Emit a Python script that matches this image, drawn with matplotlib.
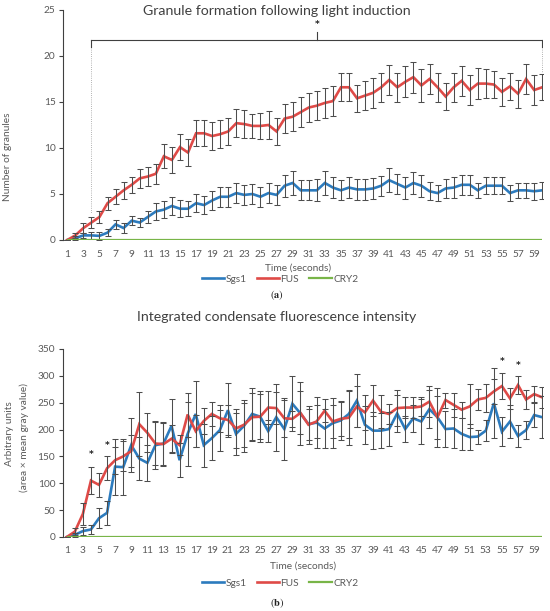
import matplotlib
matplotlib.use('Agg')
import matplotlib.pyplot as plt
from matplotlib.lines import Line2D

plt.rcParams['font.family'] = ['Lato', 'DejaVu Sans']
plt.rcParams['mathtext.fontset'] = 'stix'

# ---------------- data ----------------
time_s = list(range(1, 61))
tick_values = list(range(1, 61, 2))
tick_labels = [str(v) for v in tick_values]
series_names = ['Sgs1', 'FUS', 'CRY2']

# Panel (a): number of granules
sgs1_a = [0, 0.2, 0.5, 0.5, 0.45, 0.8, 1.7, 1.3, 2.1, 1.9,
          2.5, 3.1, 3.3, 3.7, 3.4, 3.4, 4.0, 3.8, 4.3, 4.7,
          4.7, 5.1, 4.9, 5.0, 4.7, 5.1, 4.9, 5.9, 6.2, 5.4,
          5.4, 5.4, 6.2, 5.7, 5.4, 5.7, 5.5, 5.5, 5.6, 5.9,
          6.5, 6.1, 5.7, 6.2, 5.9, 5.3, 5.1, 5.6, 5.7, 6.0,
          6.0, 5.4, 5.9, 5.9, 5.9, 5.1, 5.4, 5.4, 5.3, 5.4]
sgs1_a_err = [0, 0.2, 0.3, 0.4, 0.4, 0.4, 0.5, 0.5, 0.5, 0.5,
              0.6, 0.9, 0.9, 1.0, 0.9, 0.8, 1.0, 1.0, 1.0, 1.1,
              1.1, 1.1, 1.1, 1.1, 1.1, 1.1, 1.1, 1.2, 1.3, 1.1,
              1.1, 1.2, 1.3, 1.1, 1.1, 1.1, 1.1, 1.1, 1.1, 1.1,
              1.3, 1.1, 1.2, 1.2, 1.2, 1.0, 0.9, 1.0, 1.1, 1.1,
              1.1, 0.8, 0.9, 0.9, 0.9, 0.9, 0.8, 0.8, 0.9, 0.9]
fus_a = [0, 0.5, 1.3, 1.9, 2.5, 4.0, 4.7, 5.4, 6.0, 6.7,
         6.9, 7.2, 9.1, 8.7, 10.1, 9.5, 11.6, 11.6, 11.3, 11.5,
         11.8, 12.7, 12.6, 12.4, 12.4, 12.5, 11.8, 13.2, 13.4, 13.9,
         14.4, 14.6, 14.9, 15.1, 16.6, 16.6, 15.4, 15.7, 16.0, 16.6,
         17.4, 16.6, 17.2, 17.7, 16.8, 17.5, 16.6, 15.6, 16.6, 17.3,
         16.3, 17.0, 17.0, 16.9, 16.1, 16.7, 15.9, 17.5, 16.3, 16.6]
fus_a_err = [0, 0.3, 0.5, 0.6, 0.7, 0.7, 0.8, 0.9, 0.9, 1.0,
             1.0, 1.1, 1.3, 1.4, 1.4, 1.5, 1.4, 1.4, 1.5, 1.5,
             1.5, 1.5, 1.5, 1.3, 1.4, 1.5, 1.5, 1.6, 1.6, 1.6,
             1.6, 1.6, 1.6, 1.6, 1.5, 1.5, 1.5, 1.6, 1.6, 1.6,
             1.6, 1.6, 1.7, 1.7, 1.8, 1.6, 1.6, 1.5, 1.6, 1.6,
             1.6, 1.7, 1.6, 1.5, 1.5, 1.5, 1.5, 1.6, 1.6, 1.4]
cry2_a = [0, 0, 0, 0, 0, 0, 0, 0, 0, 0, 0, 0, 0, 0, 0, 0, 0, 0, 0, 0,
          0, 0, 0, 0, 0, 0, 0, 0, 0, 0, 0, 0, 0, 0, 0, 0, 0, 0, 0, 0,
          0, 0, 0, 0, 0, 0, 0, 0, 0, 0, 0, 0, 0, 0, 0, 0, 0, 0, 0, 0]

# Panel (b): integrated intensity
sgs1_b = [0, 4, 11, 14, 35, 45, 131, 130, 171, 146,
          138, 171, 174, 207, 143, 192, 229, 171, 184, 199,
          236, 192, 207, 229, 224, 197, 223, 201, 248, 230,
          210, 213, 202, 212, 217, 229, 254, 209, 198, 198,
          201, 230, 201, 221, 215, 238, 223, 201, 202, 192,
          186, 187, 198, 249, 196, 215, 188, 199, 227, 223]
sgs1_b_err = [0, 4, 8, 8, 19, 22, 52, 52, 50, 40,
              33, 45, 40, 50, 32, 60, 62, 40, 41, 38,
              50, 39, 48, 48, 42, 20, 62, 58, 51, 59,
              29, 48, 37, 47, 36, 45, 50, 35, 35, 33,
              32, 34, 25, 25, 41, 36, 55, 33, 37, 30,
              24, 13, 20, 65, 27, 30, 21, 17, 22, 39]
fus_b = [0, 10, 43, 105, 97, 128, 143, 150, 160, 210,
         194, 174, 173, 183, 171, 228, 197, 216, 229, 221,
         218, 202, 209, 223, 224, 241, 240, 221, 220, 231,
         209, 215, 235, 215, 220, 222, 243, 232, 254, 233,
         229, 240, 241, 241, 243, 252, 223, 255, 246, 237,
         243, 256, 259, 271, 281, 258, 283, 256, 266, 260]
fus_b_err = [0, 6, 21, 25, 22, 22, 25, 28, 30, 60,
             36, 40, 40, 25, 19, 41, 30, 24, 23, 25,
             28, 36, 41, 45, 48, 30, 30, 34, 15, 40,
             35, 30, 21, 31, 32, 50, 38, 32, 29, 31,
             19, 33, 19, 20, 17, 29, 40, 14, 23, 15,
             41, 19, 26, 24, 24, 20, 17, 18, 15, 20]
cry2_b = [0, 0, 0, 0, 0, 0, 0, 0, 0, 0, 0, 0, 0, 0, 0, 0, 0, 0, 0, 0,
          0, 0, 0, 0, 0, 0, 0, 0, 0, 0, 0, 0, 0, 0, 0, 0, 0, 0, 0, 0,
          0, 0, 0, 0, 0, 0, 0, 0, 0, 0, 0, 0, 0, 0, 0, 0, 0, 0, 0, 0]

# significance marks
star_a_x = [32]
star_a_y = [23.4]
bracket_a = [4, 60, 21.7]
star_b_x = [4, 6, 55, 57]
star_b_y = [154, 171, 326, 319]

# ---------------- style ----------------
C_BLUE = '#2C7BBE'
C_RED = '#DF4A47'
C_GREEN = '#78B548'
C_ERR = '#4D4D4D'
C_TXT = '#595959'
C_AX = '#404040'
FS = 7.3

W, H = 550, 611
fig = plt.figure(figsize=(W / 100, H / 100), dpi=100)


def px(x0, y0, x1, y1):
    return [x0 / W, 1 - y1 / H, (x1 - x0) / W, (y1 - y0) / H]


def draw_panel(ax, sgs, sgs_err, fus, fus_err, cry, ymax, ystep, pad):
    ax.plot(time_s, sgs, color=C_BLUE, lw=1.9, zorder=2, solid_joinstyle='miter')
    ax.plot(time_s, fus, color=C_RED, lw=1.9, zorder=2.1, solid_joinstyle='miter')
    ax.errorbar(time_s, sgs, yerr=sgs_err, fmt='none', ecolor=C_ERR,
                elinewidth=0.75, capsize=1.9, capthick=0.75, zorder=3)
    ax.errorbar(time_s, fus, yerr=fus_err, fmt='none', ecolor=C_ERR,
                elinewidth=0.75, capsize=1.9, capthick=0.75, zorder=3)
    ax.plot(time_s, cry, color=C_GREEN, lw=1.6, zorder=4, solid_capstyle='butt')
    ax.set_xlim(0.47, 60.1)
    ax.set_ylim(0, ymax)
    ax.set_yticks(list(range(0, ymax + 1, ystep)))
    ax.set_xticks(tick_values)
    ax.set_xticklabels(tick_labels)
    for s in ['top', 'right', 'bottom']:
        ax.spines[s].set_visible(False)
    ax.spines['left'].set_color(C_AX)
    ax.spines['left'].set_linewidth(0.8)
    ax.tick_params(axis='y', length=2.8, width=0.8, color=C_AX, labelsize=FS,
                   labelcolor=C_TXT, pad=2.5)
    ax.tick_params(axis='x', length=0, labelsize=FS, labelcolor=C_TXT, pad=pad)
    ax.patch.set_alpha(0)


# Panel (a)
ax1 = fig.add_axes(px(63, 10, 543, 240))
draw_panel(ax1, sgs1_a, sgs1_a_err, fus_a, fus_a_err, cry2_a, 25, 5, 7.5)
bx0, bx1, by = bracket_a
ax1.plot([bx0, bx1], [by, by], color=C_AX, lw=0.8, zorder=5)
ax1.plot([bx0, bx0], [by, by - 0.7], color=C_AX, lw=0.8, zorder=5)
ax1.plot([bx1, bx1], [by, by - 0.7], color=C_AX, lw=0.8, zorder=5)
ax1.plot([(bx0 + bx1) / 2] * 2, [by, by + 0.9], color=C_AX, lw=0.8, zorder=5)
ax1.plot([bx0, bx0], [by - 0.7, 2.9], color='#9A9A9A', lw=0.6, ls=(0, (1.0, 1.6)), zorder=1)
ax1.plot([bx1, bx1], [by - 0.7, 18.3], color='#9A9A9A', lw=0.6, ls=(0, (1.0, 1.6)), zorder=1)
for sx, sy in zip(star_a_x, star_a_y):
    ax1.text(sx, sy, '*', ha='center', va='center', fontsize=6.5, color='#222222',
             fontweight='bold', family='DejaVu Sans')

fig.text(277 / W, 1 - 11 / H, 'Granule formation following light induction',
         ha='center', va='center', fontsize=10.2, color='#404040')
fig.text(8 / W, 1 - 157 / H, 'Number of granules', rotation=90, ha='center',
         va='center', fontsize=FS, color=C_TXT)
fig.text(298 / W, 1 - 268 / H, 'Time (seconds)', ha='center', va='center',
         fontsize=FS, color=C_TXT)
fig.text(277 / W, 1 - 295 / H, r'$(\mathbf{a})$', ha='center', va='center',
         fontsize=7.5, color='#222222')

# Panel (b)
ax2 = fig.add_axes(px(62.5, 349, 543, 537))
draw_panel(ax2, sgs1_b, sgs1_b_err, fus_b, fus_b_err, cry2_b, 350, 50, 6.5)
for sx, sy in zip(star_b_x, star_b_y):
    ax2.text(sx, sy, '*', ha='center', va='center', fontsize=6.5, color='#222222',
             fontweight='bold', family='DejaVu Sans')

fig.text(277 / W, 1 - 317 / H, 'Integrated condensate fluorescence intensity',
         ha='center', va='center', fontsize=10.2, color='#404040')
fig.text(10 / W, 1 - 434 / H, 'Arbitrary units', rotation=90, ha='center',
         va='center', fontsize=FS, color=C_TXT)
fig.text(24 / W, 1 - 437 / H, '(area \u00d7 mean gray value)', rotation=90,
         ha='center', va='center', fontsize=FS, color=C_TXT)
fig.text(303 / W, 1 - 566 / H, 'Time (seconds)', ha='center', va='center',
         fontsize=FS, color=C_TXT)
fig.text(277 / W, 1 - 603 / H, r'$(\mathbf{b})$', ha='center', va='center',
         fontsize=7.5, color='#222222')

# Legends
handles = [Line2D([], [], color=C_BLUE, lw=1.9),
           Line2D([], [], color=C_RED, lw=1.9),
           Line2D([], [], color=C_GREEN, lw=1.6)]
for ly in (279, 583):
    leg = fig.legend(handles, series_names, loc='center', ncol=3, frameon=False,
                     bbox_to_anchor=(280 / W, 1 - ly / H), fontsize=FS,
                     handlelength=2.2, handletextpad=0.15, columnspacing=1.0,
                     borderaxespad=0, borderpad=0)
    for t in leg.get_texts():
        t.set_color(C_TXT)

fig.savefig('out.png', dpi=100)
